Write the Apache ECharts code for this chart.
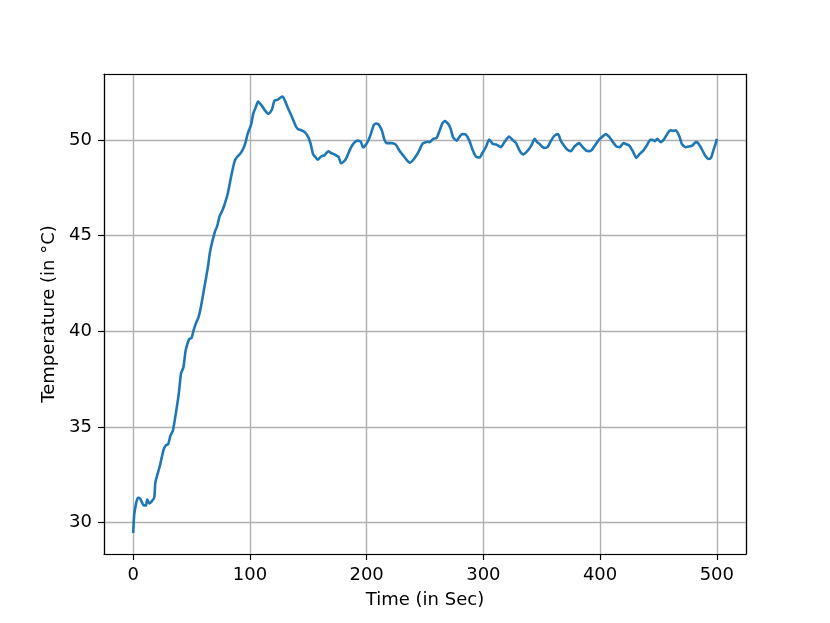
<!DOCTYPE html>
<html>
<head>
<meta charset="utf-8">
<script src="https://cdn.jsdelivr.net/npm/echarts@6/dist/echarts.min.js"></script>
<style>html,body{margin:0;padding:0;background:#fff;}#c{width:830px;height:623px;}</style>
</head>
<body>
<div id="c"></div>
<script>
var times = [0,1,4,6,9,11,12,14,15,18,19,23,26,28,30,32,34,36,39,41,43,45,48,50,52,54,56,58,61,64,66,70,72,74,76,78,81,83,85,87,89,92,94,96,98,101,103,105,107,110,113,116,119,121,124,126,128,130,133,136,139,141,144,147,150,152,154,156,158,161,164,167,170,173,176,178,181,183,186,189,192,195,197,200,203,206,208,210,213,215,217,221,225,228,232,235,237,240,243,245,248,252,254,257,260,262,265,267,270,272,274,277,280,282,285,288,291,294,297,299,302,305,308,311,315,318,322,325,328,331,334,338,341,344,346,348,352,355,358,361,364,366,369,372,375,378,382,384,388,391,393,396,399,403,405,408,411,414,417,420,423,425,428,431,434,437,440,443,445,447,449,452,455,458,460,463,465,468,470,473,476,479,482,484,487,490,493,495,497,499,500];
var temps = [29.46,30.47,31.3,31.25,30.9,30.9,31.2,31.0,31.05,31.3,32.1,33.0,33.8,34.04,34.1,34.56,34.8,35.5,36.7,37.8,38.1,39.0,39.6,39.65,40.1,40.45,40.74,41.26,42.3,43.35,44.2,45.2,45.5,46.0,46.25,46.57,47.18,47.8,48.4,48.9,49.1,49.3,49.5,49.8,50.3,50.8,51.4,51.7,52.0,51.8,51.53,51.36,51.6,52.05,52.1,52.2,52.26,52.05,51.6,51.2,50.75,50.57,50.5,50.4,50.14,49.8,49.27,49.1,48.96,49.13,49.2,49.4,49.3,49.22,49.1,48.78,48.9,49.1,49.53,49.83,49.96,49.9,49.6,49.8,50.2,50.75,50.85,50.82,50.5,50.05,49.83,49.83,49.75,49.44,49.13,48.9,48.8,48.96,49.22,49.44,49.8,49.9,49.88,50.05,50.1,50.4,50.87,50.98,50.82,50.57,50.14,49.96,50.2,50.3,50.27,49.96,49.44,49.1,49.08,49.3,49.6,50.02,49.79,49.76,49.62,49.88,50.17,50.0,49.83,49.44,49.24,49.44,49.7,50.05,49.88,49.79,49.58,49.62,49.96,50.22,50.3,50.0,49.7,49.48,49.41,49.65,49.83,49.7,49.44,49.41,49.48,49.74,50.0,50.22,50.3,50.14,49.88,49.65,49.62,49.83,49.76,49.7,49.41,49.06,49.27,49.44,49.7,50.0,50.0,49.93,50.05,49.88,50.05,50.35,50.5,50.47,50.5,50.17,49.79,49.62,49.65,49.7,49.88,49.83,49.53,49.18,49.0,49.06,49.44,49.8,50.05];
var xTitle = 'Time (in Sec)';
var yTitle = 'Temperature (in °C)';

var data = times.map(function (t, i) { return [t, temps[i]]; });
var font = 'DejaVu Sans';
var X_MIN = -25, X_MAX = 525, Y_MIN = 28.36, Y_MAX = 53.44;
var spine = {show: true, onZero: false, lineStyle: {color: '#000', width: 1.2}};
var chart = echarts.init(document.getElementById('c'), null, {renderer: 'canvas'});
chart.setOption({
  animation: false,
  backgroundColor: '#fff',
  grid: {left: 104, top: 74, right: 84, bottom: 69, show: false},
  xAxis: [{
    type: 'value', min: X_MIN, max: X_MAX, position: 'bottom',
    name: xTitle, nameLocation: 'middle', nameGap: 37,
    nameTextStyle: {fontFamily: font, fontSize: 18, color: '#000'},
    axisLine: spine,
    axisTick: {show: true, inside: false, length: 6, lineStyle: {color: '#000', width: 1.2}},
    axisLabel: {fontFamily: font, fontSize: 18, color: '#000', margin: 12, showMinLabel: false, showMaxLabel: false},
    splitLine: {show: true, lineStyle: {color: '#b0b0b0', width: 1.4}}
  }, {
    type: 'value', min: X_MIN, max: X_MAX, position: 'top', z: 5,
    axisLine: spine, axisTick: {show: false}, axisLabel: {show: false}, splitLine: {show: false}
  }],
  yAxis: [{
    type: 'value', min: Y_MIN, max: Y_MAX, position: 'left',
    name: yTitle, nameLocation: 'middle', nameGap: 37, nameRotate: 90,
    nameTextStyle: {fontFamily: font, fontSize: 18, color: '#000'},
    axisLine: spine,
    axisTick: {show: true, inside: false, length: 6, lineStyle: {color: '#000', width: 1.2}},
    axisLabel: {fontFamily: font, fontSize: 18, color: '#000', margin: 12, showMinLabel: false, showMaxLabel: false,
      formatter: function (v) { return String(Math.round(v)); }},
    splitLine: {show: true, lineStyle: {color: '#b0b0b0', width: 1.4}}
  }, {
    type: 'value', min: Y_MIN, max: Y_MAX, position: 'right', z: 5,
    axisLine: spine, axisTick: {show: false}, axisLabel: {show: false}, splitLine: {show: false}
  }],
  series: [{
    type: 'line', data: data, showSymbol: false, smooth: 0.2,
    xAxisIndex: 0, yAxisIndex: 0,
    lineStyle: {color: '#1f77b4', width: 2.6},
    itemStyle: {color: '#1f77b4'}
  }]
});
</script>
</body>
</html>
